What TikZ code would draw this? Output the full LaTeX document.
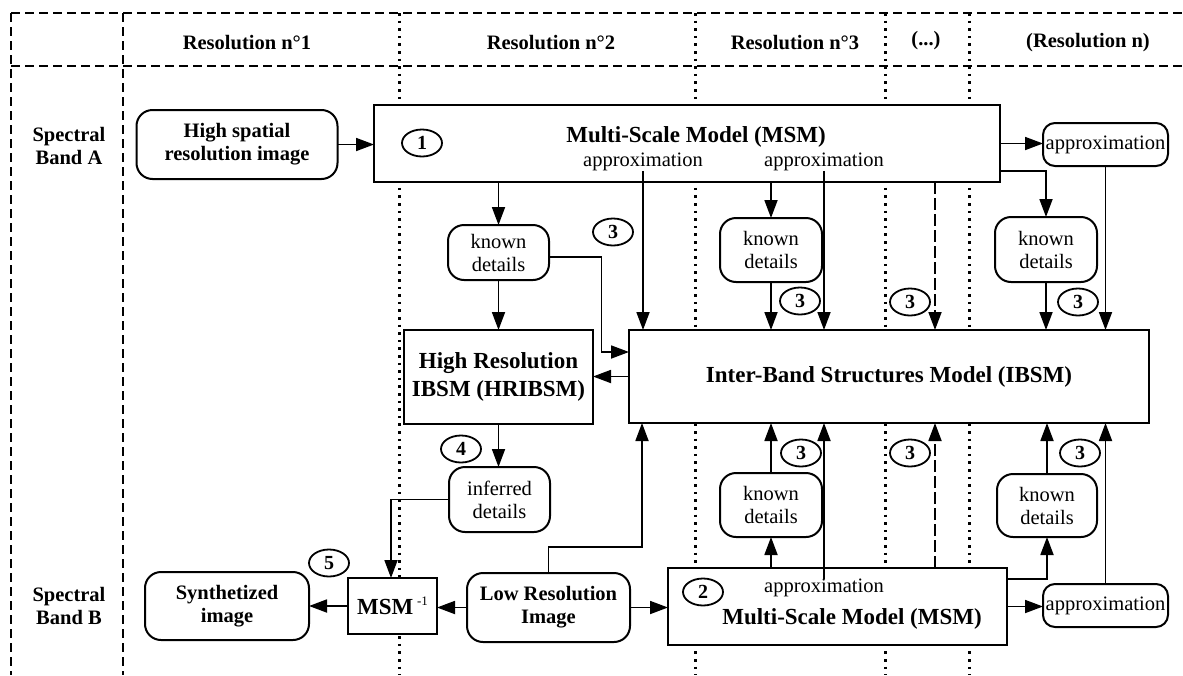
\documentclass[tikz,border=0pt]{standalone}
\usepackage{fontspec}
\setmainfont{Liberation Serif}
\usetikzlibrary{arrows.meta,shapes.geometric,calc}
\begin{document}
\begin{tikzpicture}[x=1pt,y=-1pt,
  every node/.style={inner sep=0pt, outer sep=0pt},
  txt/.style={font=\fontsize{20.5}{23}\selectfont, align=center},
  btxt/.style={font=\fontsize{20.5}{23}\selectfont\bfseries, align=center},
  big/.style={font=\fontsize{23}{28}\selectfont\bfseries, align=center},
  sqbox/.style={draw, line width=2pt, fill=white, align=center},
  rbox/.style={sqbox, rounded corners=16pt},
  num/.style={draw, ellipse, line width=1.8pt, fill=white, minimum width=40pt, minimum height=27pt, font=\fontsize{20}{20}\selectfont\bfseries},
  arr/.style={line width=1.8pt, -{Triangle[length=18pt,width=13pt]}},
  gridd/.style={line width=1.6pt, dash pattern=on 9pt off 5pt},
  gridt/.style={line width=3pt, dash pattern=on 2.6pt off 5pt},
  longdash/.style={dash pattern=on 12pt off 4pt}
]
\useasboundingbox (0,0) rectangle (1183,675);
% grid
\draw[gridd] (11,13) -- (1183,13);
\draw[gridd] (11,66) -- (1183,66);
\draw[gridd] (11,13) -- (11,675);
\draw[gridd] (123,13) -- (123,675);
\foreach \x in {399,695,885,969} \draw[gridt] (\x,13) -- (\x,675);
% headers
\node[btxt] (h1) at (247,43) {Resolution n°1};
\node[btxt] (h2) at (551,43) {Resolution n°2};
\node[btxt] (h3) at (795,43) {Resolution n°3};
\node[btxt] (h4) at (926,41) {(...)};
\node[btxt] (h5) at (1088,43) {(Resolution n)};
\node[btxt] (bA) at (69,146) {Spectral\\Band A};
\node[btxt] (bB) at (69,606) {Spectral\\Band B};
% band A
\node[rbox, btxt, minimum width=201pt, minimum height=69pt] (high) at (237,144.5) {High spatial\\resolution image};
\node[sqbox, minimum width=626pt, minimum height=77pt] (msmA) at (687,143.5) {};
\node[big] (msmAt) at (696,137) {Multi-Scale Model (MSM)};
\node[num] (n1) at (422,143) {1};
\node[txt] (apA1) at (643,162) {approximation};
\node[txt] (apA2) at (824,162) {approximation};
\node[rbox, txt, minimum width=125pt, minimum height=43pt, rounded corners=12pt] (apxA) at (1105.5,144.5) {approximation};
\node[rbox, txt, minimum width=101pt, minimum height=55pt] (kd2A) at (498.5,252.5) {known\\details};
\node[rbox, txt, minimum width=102pt, minimum height=64pt] (kd3A) at (771,250) {known\\details};
\node[rbox, txt, minimum width=102pt, minimum height=65pt] (kdnA) at (1046,249.5) {known\\details};
% middle
\node[sqbox, big, minimum width=189pt, minimum height=94pt] (hr) at (498.5,377) {High Resolution\\IBSM (HRIBSM)};
\node[sqbox, big, minimum width=520pt, minimum height=93pt] (ibsm) at (889,376.5) {Inter-Band Structures Model (IBSM)};
\node[rbox, txt, minimum width=101pt, minimum height=65pt] (inf) at (499.5,499.5) {inferred\\details};
% band B
\node[rbox, txt, minimum width=102pt, minimum height=64pt] (kd3B) at (771,505) {known\\details};
\node[rbox, txt, minimum width=100pt, minimum height=63pt] (kdnB) at (1047,505.5) {known\\details};
\node[sqbox, minimum width=89pt, minimum height=56pt] (minv) at (392.5,606) {\fontsize{23}{23}\selectfont\bfseries MSM\,\raisebox{9pt}{\fontsize{13}{13}\selectfont\mdseries -1}};
\node[rbox, btxt, minimum width=164pt, minimum height=68pt] (syn) at (227,606) {Synthetized\\image};
\node[rbox, btxt, minimum width=163pt, minimum height=69pt] (low) at (548.5,607.5) {Low Resolution\\Image};
\node[sqbox, minimum width=339pt, minimum height=77pt] (msmB) at (837.5,606.5) {};
\node[big] (msmBt) at (852,619) {Multi-Scale Model (MSM)};
\node[txt] (apB) at (824,588) {approximation};
\node[num] (n2) at (703,592) {2};
\node[rbox, txt, minimum width=125pt, minimum height=43pt, rounded corners=12pt] (apxB) at (1105.5,605.5) {approximation};
% numbers
\node[num] (n3a) at (613,232) {3};
\node[num] (n3b) at (800,301) {3};
\node[num] (n3c) at (910,302) {3};
\node[num] (n3d) at (1078,302) {3};
\node[num] (n3e) at (801,453) {3};
\node[num] (n3f) at (910,453) {3};
\node[num] (n3g) at (1080,453) {3};
\node[num] (n4) at (461,449) {4};
\node[num] (n5) at (329,563) {5};
% connectors band A
\coordinate (dx) at (935,0);
\draw[arr] (high.east) -- (high.east -| msmA.west);
\draw[arr] (msmA.south -| kd2A.north) -- (kd2A.north);
\draw[arr] (kd2A.south) -- (hr.north);
\draw[arr] ([yshift=-4.5pt]kd2A.east) -- ++(52.5,0) |- ([yshift=24.5pt]ibsm.west);
\draw[arr] (ibsm.west) -- (ibsm.west -| hr.east);
\draw[arr] (apA1.south) -- (apA1.south |- ibsm.north);
\draw[arr] (msmA.south -| kd3A.north) -- (kd3A.north);
\draw[arr] (kd3A.south) -- (kd3A.south |- ibsm.north);
\draw[arr] (apA2.south) -- (apA2.south |- ibsm.north);
\draw[arr, longdash] (msmA.south -| dx) -- (ibsm.north -| dx);
\draw[arr] (msmA.east) -- (msmA.east -| apxA.west);
\draw[arr] ([yshift=-27.5pt]msmA.east) -| (kdnA.north);
\draw[arr] (kdnA.south) -- (kdnA.south |- ibsm.north);
\draw[arr] (apxA.south) -- (apxA.south |- ibsm.north);
% connectors band B
\draw[arr] (hr.south) -- (hr.south |- inf.north);
\draw[arr] (inf.west) -| ([xshift=-1.5pt]minv.north);
\draw[arr] (minv.west) -- (minv.west -| syn.east);
\draw[arr] (low.west) -- (low.west -| minv.east);
\draw[arr] (low.east) -- (low.east -| msmB.west);
\draw[arr] (low.north) -- ++(0,-26) -| ([xshift=13pt]ibsm.south west);
\draw[arr] (msmB.north -| kd3B.south) -- (kd3B.south);
\draw[arr] (kd3B.north) -- (kd3B.north |- ibsm.south);
\draw[arr] (apB.north) -- (apB.north |- ibsm.south);
\draw[arr, longdash] (msmB.north -| dx) -- (ibsm.south -| dx);
\draw[arr] ([yshift=27.5pt]msmB.east) -| (kdnB.south);
\draw[arr] (kdnB.north) -- (kdnB.north |- ibsm.south);
\draw[arr] (msmB.east) -- (msmB.east -| apxB.west);
\draw[arr] (apxB.north) -- (apxB.north |- ibsm.south);
\end{tikzpicture}
\end{document}
